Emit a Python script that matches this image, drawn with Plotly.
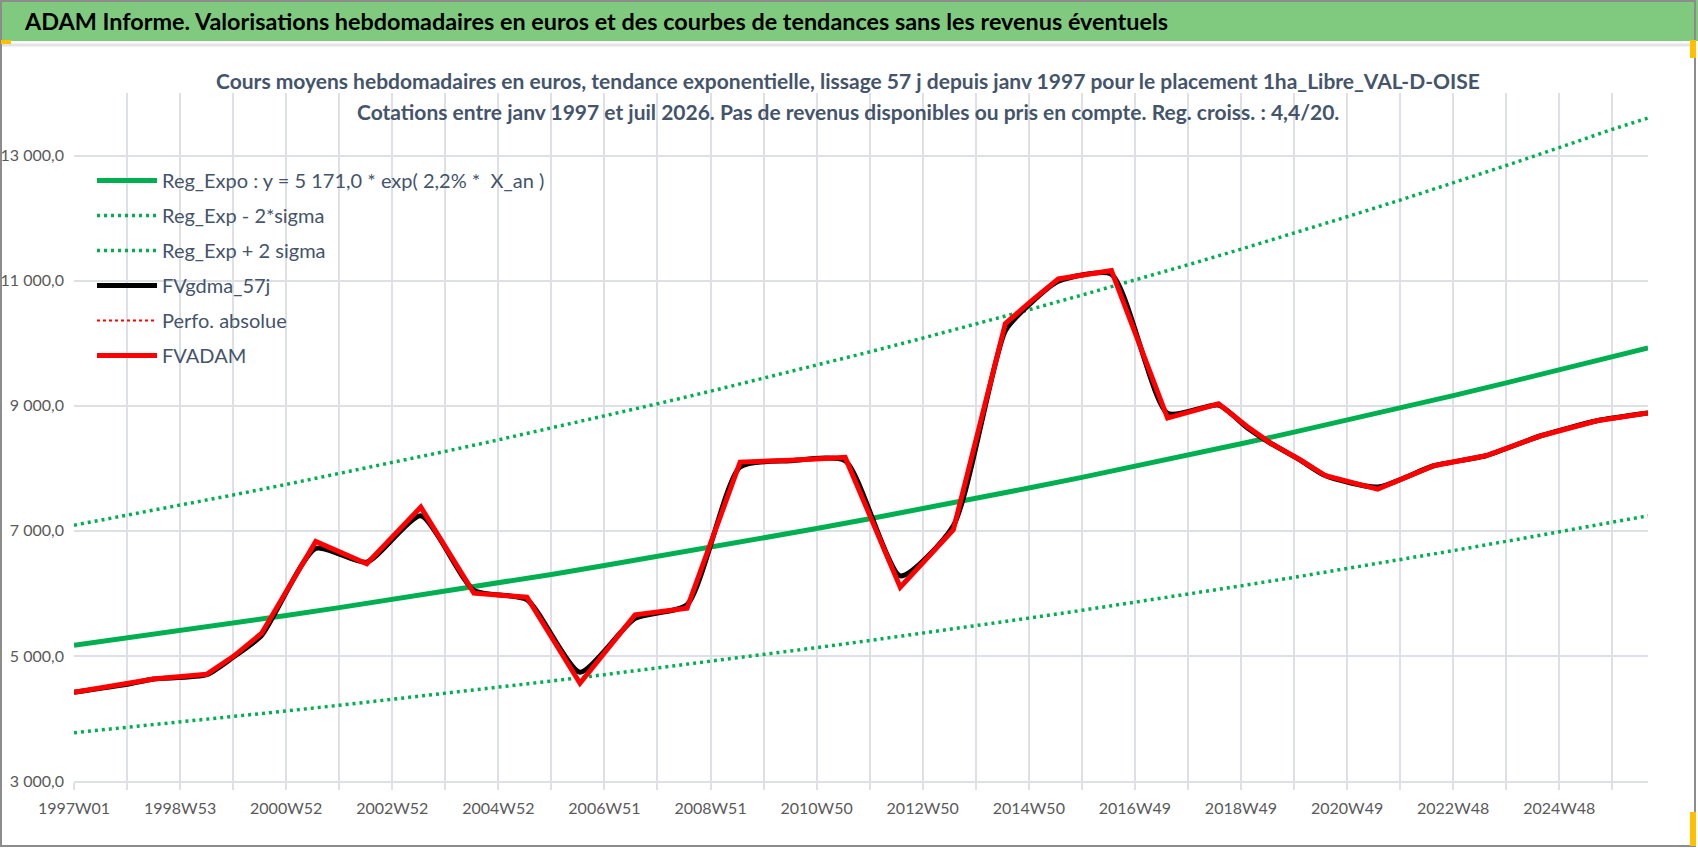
import datetime as dt
import plotly.graph_objects as go

# ---- data ----
# weekly category axis (ISO weeks), 1997W01 .. 2026W31
first_monday = dt.date(1996, 12, 30)
last_week = "2026W31"

tick_labels = ["1997W01", "1998W53", "2000W52", "2002W52", "2004W52", "2006W51",
               "2008W51", "2010W50", "2012W50", "2014W50", "2016W49", "2018W49",
               "2020W49", "2022W48", "2024W48"]

y_ticks = [3000, 5000, 7000, 9000, 11000, 13000]
y_tick_labels = ["3 000,0", "5 000,0", "7 000,0", "9 000,0", "11 000,0", "13 000,0"]

# trend curves, one point per year
trend_weeks = ["1997W01", "1998W01", "1998W53", "1999W52", "2000W52", "2001W52",
               "2002W52", "2003W52", "2004W52", "2005W51", "2006W51", "2007W51",
               "2008W51", "2009W51", "2010W50", "2011W50", "2012W50", "2013W50",
               "2014W50", "2015W50", "2016W49", "2017W49", "2018W49", "2019W49",
               "2020W49", "2021W48", "2022W48", "2023W48", "2024W48", "2025W48",
               "2026W31"]
reg_expo = [5171, 5286, 5404, 5524, 5647, 5772, 5901, 6032, 6166, 6303, 6444,
            6587, 6734, 6883, 7036, 7193, 7353, 7517, 7684, 7855, 8029, 8208,
            8391, 8577, 8768, 8963, 9162, 9366, 9575, 9788, 9925]
reg_minus_2s = [3772, 3856, 3941, 4029, 4119, 4210, 4304, 4400, 4498, 4598, 4700,
                4805, 4911, 5021, 5132, 5246, 5363, 5483, 5604, 5729, 5857, 5987,
                6120, 6256, 6395, 6538, 6683, 6832, 6984, 7139, 7240]
reg_plus_2s = [7090, 7247, 7408, 7573, 7742, 7914, 8090, 8270, 8454, 8642, 8834,
               9031, 9232, 9437, 9647, 9861, 10081, 10305, 10534, 10769, 11008,
               11253, 11503, 11759, 12021, 12288, 12562, 12841, 13127, 13419, 13600]

# valuation series (turning points)
fv_weeks = ["1997W01", "1998W01", "1998W27", "1999W26", "1999W52", "2000W28",
            "2001W29", "2002W27", "2003W28", "2004W28", "2005W27", "2006W27",
            "2007W29", "2008W28", "2009W28", "2010W24", "2011W26", "2012W28",
            "2013W28", "2014W27", "2014W52", "2015W27", "2016W26", "2017W29",
            "2018W27", "2019W03", "2019W26", "2020W03", "2020W28", "2021W26",
            "2022W29", "2023W28", "2024W30", "2025W33", "2026W31"]
fvadam = [4419, 4550, 4632, 4707, 4989, 5363, 6829, 6472, 7379, 6003, 5939, 4563,
          5656, 5763, 8099, 8130, 8173, 6099, 7016, 10312, 10669, 11027, 11160,
          8803, 9032, 8669, 8403, 8136, 7880, 7667, 8040, 8200, 8520, 8760, 8883]
fvgdma_57j = [4419, 4545, 4630, 4700, 4980, 5330, 6720, 6500, 7240, 6050, 5900,
              4740, 5600, 5820, 8020, 8120, 8120, 6280, 7080, 10200, 10640, 10990,
              11100, 8880, 9010, 8650, 8400, 8130, 7880, 7700, 8040, 8200, 8520,
              8760, 8883]
# series present in the legend but with no visible values
perfo_weeks = [None]
perfo_absolue = [None]

# ---- category axis ----
categories = []
d = first_monday
while True:
    iso = d.isocalendar()
    lab = f"{iso[0]}W{iso[1]:02d}"
    categories.append(lab)
    if lab == last_week:
        break
    d += dt.timedelta(days=7)
pos = {lab: i for i, lab in enumerate(categories)}

GREEN = "#00B050"
FONT = "Lato, Noto Sans, sans-serif"
W, H = 1698, 848
L, R, T, B = 74, 1648, 93, 781


def px(x):
    return (x - L) / (R - L)


def py(y):
    return (B - y) / (B - T)


fig = go.Figure()
series = [
    ("Reg_Expo : y = 5 171,0 * exp( 2,2% *  X_an )", trend_weeks, reg_expo, GREEN, 5, "solid", "linear"),
    ("Reg_Exp - 2*sigma", trend_weeks, reg_minus_2s, GREEN, 3.5, "3px,4px", "linear"),
    ("Reg_Exp + 2 sigma", trend_weeks, reg_plus_2s, GREEN, 3.5, "3px,4px", "linear"),
    ("FVgdma_57j", fv_weeks, fvgdma_57j, "#000000", 5, "solid", "spline"),
    ("Perfo. absolue", perfo_weeks, perfo_absolue, "#FF0000", 2, "dot", "linear"),
    ("FVADAM", fv_weeks, fvadam, "#FF0000", 5, "solid", "linear"),
]
for name, wk, vals, color, width, dash, shape in series:
    fig.add_trace(go.Scatter(
        x=[pos.get(w) for w in wk], y=vals, name=name, mode="lines",
        legendgroup=name,
        line=dict(color=color, width=width, dash=dash, shape=shape, smoothing=0.6),
    ))

shapes = [
    # green header band
    dict(type="rect", xref="paper", yref="paper", x0=px(0), x1=px(W), y0=py(41), y1=py(0),
         fillcolor="#7FCA7F", line=dict(width=0), layer="below"),
    dict(type="line", xref="paper", yref="paper", x0=px(0), x1=px(1695), y0=py(45), y1=py(45),
         line=dict(color="#E3E3E3", width=3)),
    # outer frame
    dict(type="rect", xref="paper", yref="paper", x0=px(1), x1=px(1695), y0=py(846), y1=py(1),
         line=dict(color="#8C8C8C", width=2)),
    # small selection handles
    dict(type="rect", xref="paper", yref="paper", x0=px(1), x1=px(11), y0=py(44), y1=py(40),
         fillcolor="#FFC000", line=dict(width=0)),
    dict(type="rect", xref="paper", yref="paper", x0=px(1690), x1=px(1696), y0=py(58), y1=py(40),
         fillcolor="#FFC000", line=dict(width=0)),
    dict(type="rect", xref="paper", yref="paper", x0=px(1690), x1=px(1696), y0=py(846), y1=py(812),
         fillcolor="#FFC000", line=dict(width=0)),
]

annotations = [
    dict(text="ADAM Informe. Valorisations hebdomadaires en euros et des courbes de tendances sans les revenus éventuels",
         xref="paper", yref="paper", x=px(22), y=py(21), xanchor="left", yanchor="middle",
         showarrow=False, font=dict(family=FONT, size=23.4, color="#000000", weight="bold")),
    dict(text="Cours moyens hebdomadaires en euros, tendance exponentielle, lissage 57 j depuis janv 1997 pour le placement 1ha_Libre_VAL-D-OISE",
         xref="paper", yref="paper", x=px(848), y=py(80), xanchor="center", yanchor="middle",
         showarrow=False, font=dict(family=FONT, size=21, color="#44546A", weight="bold")),
    dict(text="Cotations entre janv 1997 et juil 2026. Pas de revenus disponibles ou pris en compte. Reg. croiss. : 4,4/20.",
         xref="paper", yref="paper", x=px(848), y=py(111), xanchor="center", yanchor="middle",
         showarrow=False, font=dict(family=FONT, size=21, color="#44546A", weight="bold")),
]

GRID = "#DDE1E6"
fig.update_layout(
    width=W, height=H,
    margin=dict(l=L, r=W - R, t=T, b=H - B, pad=0),
    paper_bgcolor="white", plot_bgcolor="white",
    font=dict(family=FONT, color="#595959"),
    shapes=shapes, annotations=annotations,
    showlegend=True,
    legend=dict(x=px(92), y=py(161), xanchor="left", yanchor="top",
                bgcolor="rgba(255,255,255,0)", traceorder="grouped",
                tracegroupgap=6, font=dict(family=FONT, size=20, color="#44546A"),
                itemwidth=60),
    xaxis=dict(range=[0, len(categories) - 1], tickmode="array",
               tickvals=[pos[t] for t in tick_labels], ticktext=tick_labels,
               showgrid=True, gridcolor=GRID, gridwidth=1.5,
               showline=True, linecolor=GRID, linewidth=2,
               ticks="outside", ticklen=7, tickcolor=GRID, tickwidth=1.5,
               ticklabelstandoff=5, automargin=False,
               minor=dict(dtick=52, tick0=0, showgrid=True, gridcolor=GRID, gridwidth=1.5,
                          ticks="outside", ticklen=7, tickcolor=GRID),
               tickfont=dict(size=16, color="#595959"), zeroline=False),
    yaxis=dict(range=[3000, 14000], tickmode="array", tickvals=y_ticks,
               ticktext=y_tick_labels, showgrid=True, gridcolor=GRID, gridwidth=1.5,
               zeroline=False, showline=False, ticklabelstandoff=9, automargin=False,
               tickfont=dict(size=16, color="#595959")),
)

fig.write_html("out.html", config={"displayModeBar": False},
               post_script="document.body.style.margin='0';document.body.style.overflow='hidden';")
